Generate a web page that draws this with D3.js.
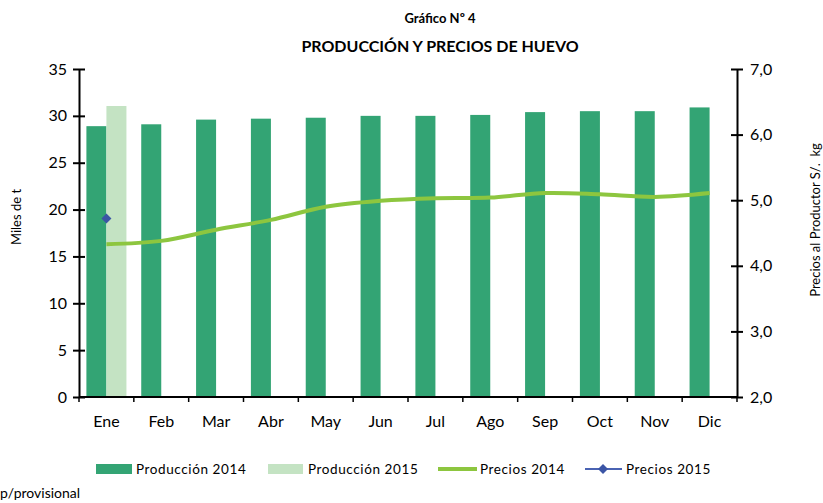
<!DOCTYPE html>
<html><head><meta charset="utf-8">
<script src="https://cdn.jsdelivr.net/npm/d3@7"></script>
<style>body{margin:0;background:#fff}svg{display:block;font-family:Lato,"Open Sans",sans-serif}</style>
</head><body><svg id="c" width="823" height="503"></svg>
<script>
const months = ["Ene","Feb","Mar","Abr","May","Jun","Jul","Ago","Sep","Oct","Nov","Dic"];
const prod2014 = [28.9,29.1,29.6,29.7,29.8,30.0,30.0,30.1,30.4,30.5,30.5,30.9];
const prod2015 = [31.05,null,null,null,null,null,null,null,null,null,null,null];
const precios2014 = [4.33,4.38,4.55,4.70,4.90,4.99,5.03,5.04,5.11,5.09,5.05,5.11];
const precios2015 = [4.72,null,null,null,null,null,null,null,null,null,null,null];
const leftTicks = [0,5,10,15,20,25,30,35];
const rightTicks = [2,3,4,5,6,7];
const seriesNames = ["Producción 2014","Producción 2015","Precios 2014","Precios 2015"];

const C = {dark:"#33a474", light:"#c4e3c3", line:"#8dc63f", blue:"#3b55a5"};
const L = 79, R = 737, T = 69, B = 397;
const svg = d3.select("#c");

const x0 = d3.scaleBand().domain(months).range([L,R]).paddingInner(0.27).paddingOuter(0.135);
const x1 = d3.scaleBand().domain(["a","b"]).range([0,x0.bandwidth()]);
const yL = d3.scaleLinear().domain([0,35]).range([B,T]);
const yR = d3.scaleLinear().domain([2,7]).range([B,T]);

// bars
const g = svg.append("g");
months.forEach((m,i)=>{
  if(prod2014[i]!=null) g.append("rect").attr("x",x0(m)+x1("a")).attr("width",x1.bandwidth())
    .attr("y",yL(prod2014[i])).attr("height",B-yL(prod2014[i])).attr("fill",C.dark);
  if(prod2015[i]!=null) g.append("rect").attr("x",x0(m)+x1("b")).attr("width",x1.bandwidth())
    .attr("y",yL(prod2015[i])).attr("height",B-yL(prod2015[i])).attr("fill",C.light);
});

const cx = m => x0(m)+x0.bandwidth()/2;
const line = d3.line().defined(d=>d.v!=null).x(d=>cx(d.m)).y(d=>yR(d.v)).curve(d3.curveCatmullRom.alpha(0.5));
svg.append("path").datum(months.map((m,i)=>({m,v:precios2014[i]})))
  .attr("d",line).attr("fill","none").attr("stroke",C.line).attr("stroke-width",4).attr("stroke-linecap","butt");

const diamond = d3.symbol().type(d3.symbolSquare).size(50);
months.forEach((m,i)=>{
  if(precios2015[i]!=null) svg.append("path").attr("d",diamond())
    .attr("transform",`translate(${cx(m)},${yR(precios2015[i])}) rotate(45)`).attr("fill",C.blue);
});

// axes
const axL = svg.append("g").attr("transform",`translate(${L},0)`)
  .call(d3.axisLeft(yL).tickValues(leftTicks).tickSizeInner(6).tickSizeOuter(0).tickPadding(6));
axL.selectAll(".tick line").attr("x2",-6).attr("x1",6);
const axR = svg.append("g").attr("transform",`translate(${R},0)`)
  .call(d3.axisRight(yR).tickValues(rightTicks).tickSizeInner(6).tickSizeOuter(0).tickPadding(7)
    .tickFormat(d=>d3.format(".1f")(d).replace(".",",")));
axR.selectAll(".tick line").attr("x1",-6).attr("x2",6);
const axB = svg.append("g").attr("transform",`translate(0,${B})`)
  .call(d3.axisBottom(x0).tickSize(0).tickPadding(22));
// boundary ticks
const bounds = months.map(m=>x0(m)-x0.step()*x0.paddingInner()/2).concat([R]);
axB.selectAll(".bt").data(bounds).enter().append("line").attr("x1",d=>d).attr("x2",d=>d)
  .attr("y1",0).attr("y2",5).attr("stroke","#000").attr("stroke-width",1.5);
axB.select(".domain").attr("d",`M${L},0H${R}`);
[axL,axR,axB].forEach(a=>{
  a.select(".domain").attr("stroke","#000").attr("stroke-width",2);
  a.selectAll(".tick line").attr("stroke","#000").attr("stroke-width",2);
  a.selectAll("text").attr("font-family","Lato").attr("font-size",16).attr("fill","#000");
});
axB.selectAll(".tick text").attr("dy","0.5em");

// titles
svg.append("text").attr("x",440).attr("y",23).attr("text-anchor","middle")
  .attr("font-size",13).attr("font-weight","bold").text("Gráfico Nº 4");
svg.append("text").attr("x",440).attr("y",52).attr("text-anchor","middle")
  .attr("font-size",16).attr("font-weight","bold").text("PRODUCCIÓN Y PRECIOS DE HUEVO");
svg.append("text").attr("transform","translate(21,217) rotate(-90)").attr("text-anchor","middle")
  .attr("font-size",13).text("Miles de t");
svg.append("text").attr("transform","translate(820,220) rotate(-90)").attr("text-anchor","middle")
  .attr("font-size",13).attr("xml:space","preserve").text("Precios al Productor S/.  kg");

// legend
const lg = svg.append("g").attr("font-size",13.5).attr("letter-spacing",0.6);
const ly = 469;
lg.append("rect").attr("x",96).attr("y",ly-5).attr("width",36).attr("height",10).attr("fill",C.dark);
lg.append("text").attr("x",136).attr("y",ly+5).text(seriesNames[0]);
lg.append("rect").attr("x",268).attr("y",ly-5).attr("width",35).attr("height",10).attr("fill",C.light);
lg.append("text").attr("x",308).attr("y",ly+5).text(seriesNames[1]);
lg.append("line").attr("x1",438).attr("x2",477).attr("y1",ly).attr("y2",ly).attr("stroke",C.line).attr("stroke-width",4);
lg.append("text").attr("x",480).attr("y",ly+5).text(seriesNames[2]);
lg.append("line").attr("x1",585).attr("x2",622).attr("y1",ly).attr("y2",ly).attr("stroke","#4a63b3").attr("stroke-width",2);
lg.append("path").attr("d",diamond()).attr("transform",`translate(603,${ly}) rotate(45)`).attr("fill",C.blue);
lg.append("text").attr("x",626).attr("y",ly+5).text(seriesNames[3]);

svg.append("text").attr("x",0).attr("y",498).attr("font-size",14).text("p/provisional");
</script></body></html>
